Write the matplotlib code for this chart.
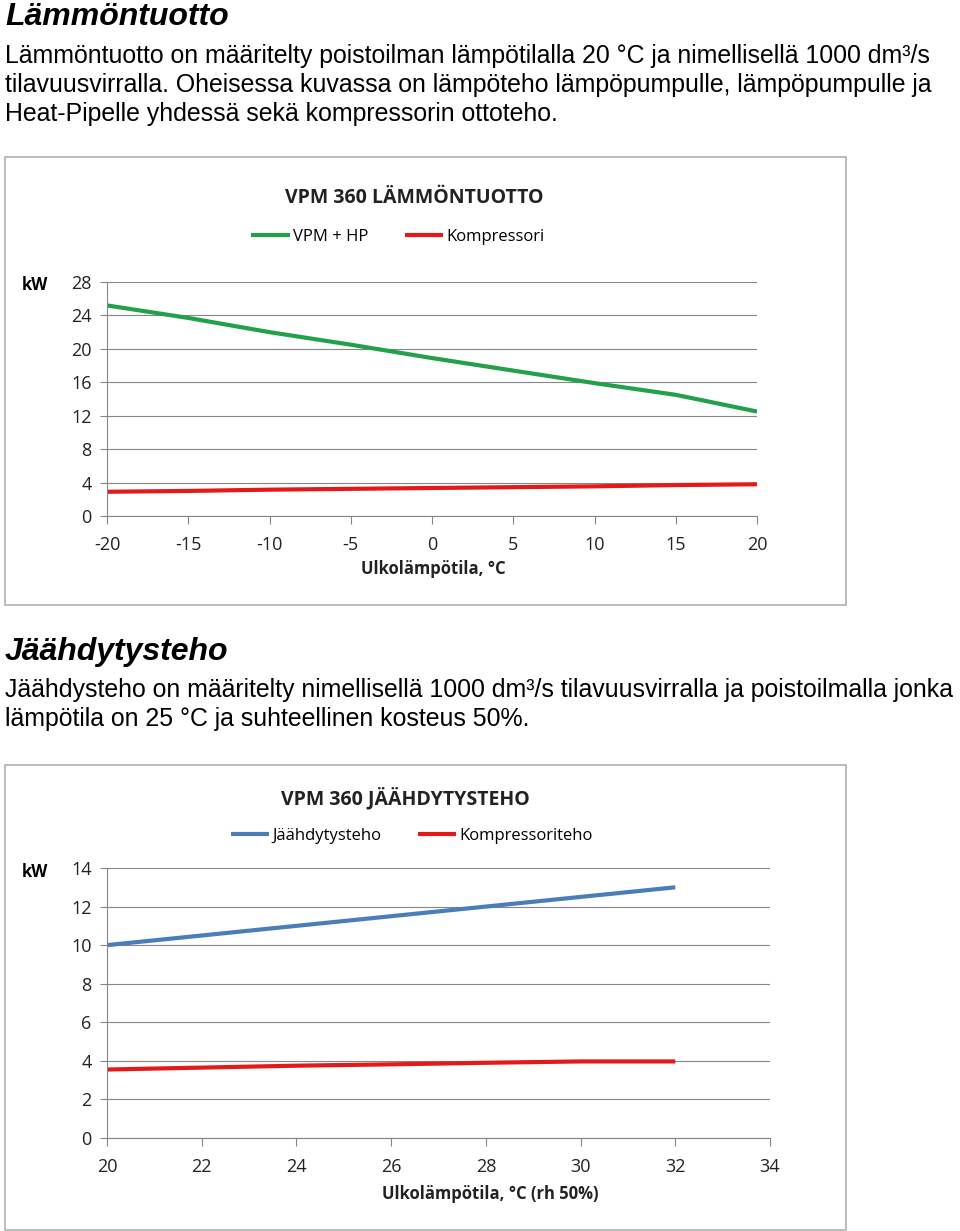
import matplotlib
matplotlib.use('Agg')
import matplotlib.pyplot as plt
from matplotlib.patches import Rectangle

# kaavio 1: lämmöntuotto
heat_temp = [-20, -15, -10, -5, 0, 5, 10, 15, 20]
heat_vpm_hp = [25.2, 23.7, 22.0, 20.5, 18.9, 17.4, 15.9, 14.5, 12.5]
heat_comp = [2.9, 3.0, 3.15, 3.25, 3.35, 3.45, 3.55, 3.7, 3.8]
heat_yticks = [0, 4, 8, 12, 16, 20, 24, 28]

# kaavio 2: jäähdytysteho
cool_temp = [20, 22, 24, 26, 28, 30, 32]
cool_power = [10.0, 10.5, 11.0, 11.5, 12.0, 12.5, 13.0]
cool_comp = [3.55, 3.65, 3.75, 3.82, 3.9, 3.97, 3.97]
cool_xticks = [20, 22, 24, 26, 28, 30, 32, 34]
cool_yticks = [0, 2, 4, 6, 8, 10, 12, 14]

W, H = 960, 1231
body = ['Liberation Sans', 'DejaVu Sans']
chartfont = ['Open Sans', 'DejaVu Sans']

fig = plt.figure(figsize=(W / 100, H / 100), dpi=100)


def fx(x):
    return x / W


def fy(y):
    return 1 - y / H


def txt(x, y, s, **kw):
    fig.text(fx(x), fy(y), s, **kw)


# tekstit
txt(5, 17, 'Lämmöntuotto', fontsize=23, fontweight='bold', style='italic',
    family=body, va='center')
para1 = ['Lämmöntuotto on määritelty poistoilman lämpötilalla 20 °C ja nimellisellä 1000 dm³/s',
         'tilavuusvirralla. Oheisessa kuvassa on lämpöteho lämpöpumpulle, lämpöpumpulle ja',
         'Heat-Pipelle yhdessä sekä kompressorin ottoteho.']
for i, line in enumerate(para1):
    txt(5, 56 + i * 29, line, fontsize=17.9, family=body, va='center')

txt(5, 652, 'Jäähdytysteho', fontsize=23, fontweight='bold', style='italic',
    family=body, va='center')
para2 = ['Jäähdysteho on määritelty nimellisellä 1000 dm³/s tilavuusvirralla ja poistoilmalla jonka',
         'lämpötila on 25 °C ja suhteellinen kosteus 50%.']
for i, line in enumerate(para2):
    txt(5, 690 + i * 29, line, fontsize=17.9, family=body, va='center')


def chart(box, plot, xs, series, colors, labels, xticks, yticks, title,
          title_x, title_y, leg_x, leg_y, xlabel, xlabel_x, xlabel_y, kw_y):
    bx0, by0, bx1, by1 = box
    fig.patches.append(Rectangle((fx(bx0), fy(by1)), fx(bx1 - bx0), (by1 - by0) / H,
                                 transform=fig.transFigure, fill=False,
                                 edgecolor='#b0b0b0', linewidth=1.2))
    px0, py0, px1, py1 = plot
    ax = fig.add_axes([fx(px0), fy(py1), fx(px1 - px0), (py1 - py0) / H])
    for ys, c, lab in zip(series, colors, labels):
        ax.plot(xs, ys, color=c, linewidth=3.0, label=lab, solid_capstyle='butt')
    ax.set_xlim(xticks[0], xticks[-1])
    ax.set_ylim(yticks[0], yticks[-1])
    ax.set_xticks(xticks)
    ax.set_yticks(yticks)
    ax.set_xticklabels([str(t) for t in xticks], family=chartfont, fontsize=13)
    ax.set_yticklabels([str(t) for t in yticks], family=chartfont, fontsize=13)
    ax.tick_params(axis='x', length=6, color='#868686', pad=8.5, labelcolor='#222222')
    ax.tick_params(axis='y', length=5, color='#868686', pad=6, labelcolor='#222222')
    ax.grid(axis='y', color='#868686', linewidth=0.8)
    ax.set_axisbelow(True)
    for side in ['top', 'right']:
        ax.spines[side].set_visible(False)
    for side in ['left', 'bottom']:
        ax.spines[side].set_color('#868686')
        ax.spines[side].set_linewidth(0.8)
    txt(title_x, title_y, title, fontsize=14, fontweight='bold', family=chartfont,
        ha='center', va='center', color='#222222')
    txt(22, kw_y, 'kW', fontsize=12, fontweight='bold', family=chartfont, va='center')
    txt(xlabel_x, xlabel_y, xlabel, fontsize=12, fontweight='bold', family=chartfont,
        ha='center', va='center', color='#222222')
    fig.legend(*ax.get_legend_handles_labels(), loc='center',
               bbox_to_anchor=(fx(leg_x), fy(leg_y)), ncol=2, frameon=False,
               prop={'family': chartfont, 'size': 12}, handlelength=2.3,
               handletextpad=0.2, columnspacing=2.2)
    return ax


chart((5, 157, 846, 605), (107, 282, 757, 516), heat_temp,
      [heat_vpm_hp, heat_comp], ['#22a04b', '#e41a1a'], ['VPM + HP', 'Kompressori'],
      heat_temp, heat_yticks, 'VPM 360 LÄMMÖNTUOTTO', 414, 198, 398, 237,
      'Ulkolämpötila, °C', 433, 569, 285)

chart((5, 765, 846, 1230), (107, 868, 770, 1138), cool_temp,
      [cool_power, cool_comp], ['#4a7ebb', '#e41a1a'], ['Jäähdytysteho', 'Kompressoriteho'],
      cool_xticks, cool_yticks, 'VPM 360 JÄÄHDYTYSTEHO', 405, 798, 412, 836,
      'Ulkolämpötila, °C (rh 50%)', 490, 1194, 872)

fig.savefig('out.png', dpi=100)
